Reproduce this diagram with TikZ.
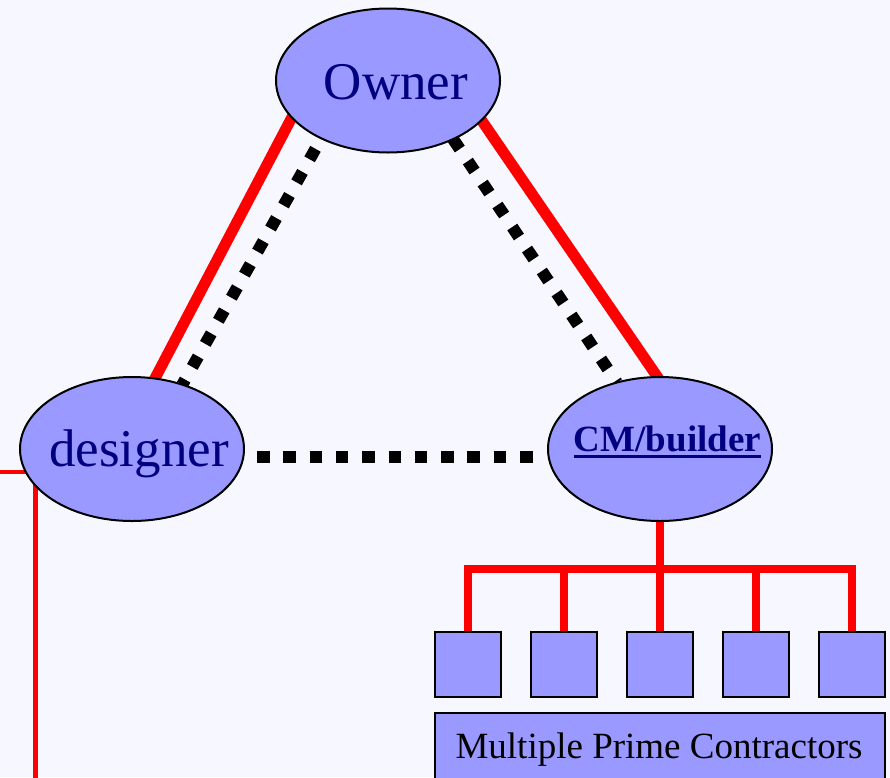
\documentclass[tikz,border=0pt]{standalone}
\usepackage{fontspec}
\setmainfont{Liberation Serif}
\usetikzlibrary{shapes.geometric}
\definecolor{bgc}{HTML}{F7F7FF}
\definecolor{nodefill}{HTML}{9999FF}
\definecolor{navy}{HTML}{000080}
\pgfdeclarelayer{bg}
\pgfdeclarelayer{conn}
\pgfsetlayers{bg,conn,main}
\tikzset{
  ell/.style={ellipse, draw=black, line width=2pt, fill=nodefill, minimum width=224pt, minimum height=144pt, inner sep=0pt, outer sep=0pt},
  sq/.style={rectangle, draw=black, line width=2.5pt, fill=nodefill, minimum width=66pt, minimum height=65pt, inner sep=0pt, outer sep=0pt},
  bigbox/.style={rectangle, draw=black, line width=2.5pt, fill=nodefill, minimum width=450pt, minimum height=90pt, inner sep=0pt, outer sep=0pt},
  rel/.style={red, line width=11pt, shorten <=-8pt, shorten >=-8pt},
  dots/.style={black, line width=12pt, dash pattern=on 12pt off 14.5pt},
  tree/.style={red, line width=7.5pt},
  thinred/.style={red, line width=4.5pt},
  lbl/.style={inner sep=0pt, outer sep=0pt, anchor=base, text=navy, font=\fontsize{53}{60}\selectfont}
}
\begin{document}
\begin{tikzpicture}[x=1pt,y=-1pt]
\useasboundingbox (0,0) rectangle (890,777);
\begin{pgfonlayer}{bg}
\fill[bgc] (0,0) rectangle (890,777);
\end{pgfonlayer}

% nodes
\node[ell] (owner) at (388,80.5) {};
\node[ell] (designer) at (132,449) {};
\node[ell] (cm) at (660,449) {};
\foreach \i/\x in {1/468,2/564,3/660,4/756,5/852}
  \node[sq] (b\i) at (\x,664.5) {};
\node[bigbox] (mpc) at (660,758) {};

% labels
\node[lbl] (ownerlabel) at (396,99) {Owner};
\node[lbl] (designerlabel) at (139,466) {designer};
\node[lbl, font=\fontsize{37}{44}\selectfont\bfseries] (cmlabel) at (667.5,451) {CM/builder};
\draw[navy, line width=3.3pt] ([yshift=-5.7pt]cmlabel.base west) -- ([yshift=-5.7pt]cmlabel.base east);
\node[lbl, text=black, font=\fontsize{37}{44}\selectfont] (mpclabel) at (659,758) {Multiple Prime Contractors};

% connectors
\coordinate (bus) at (660,569);
\coordinate (dh) at (0,472);
\coordinate (dv) at (35.5,790);
\begin{pgfonlayer}{conn}
\draw[rel] (owner.201.6) -- (designer.72);
\draw[rel] (owner.337) -- (cm.92.4);
\draw[dots, dash phase=14.5pt] (owner.221) -- (designer.52);
\draw[dots] (owner.318) -- (cm.123.5);
\draw[dots, dash pattern=on 12.5pt off 13.8pt, line width=12.5pt, shorten <=13pt, shorten >=9pt] ([yshift=-8pt]designer.east) -- ([yshift=-8pt]cm.west);
\draw[tree] (cm.center) -- (bus);
\foreach \i in {1,...,5}
  \draw[tree] (bus) -| (b\i.north);
\draw[thinred] (dh) -- (dh -| designer.center);
\draw[thinred] (dv) -- (dv |- designer.center);
\end{pgfonlayer}
\end{tikzpicture}
\end{document}
